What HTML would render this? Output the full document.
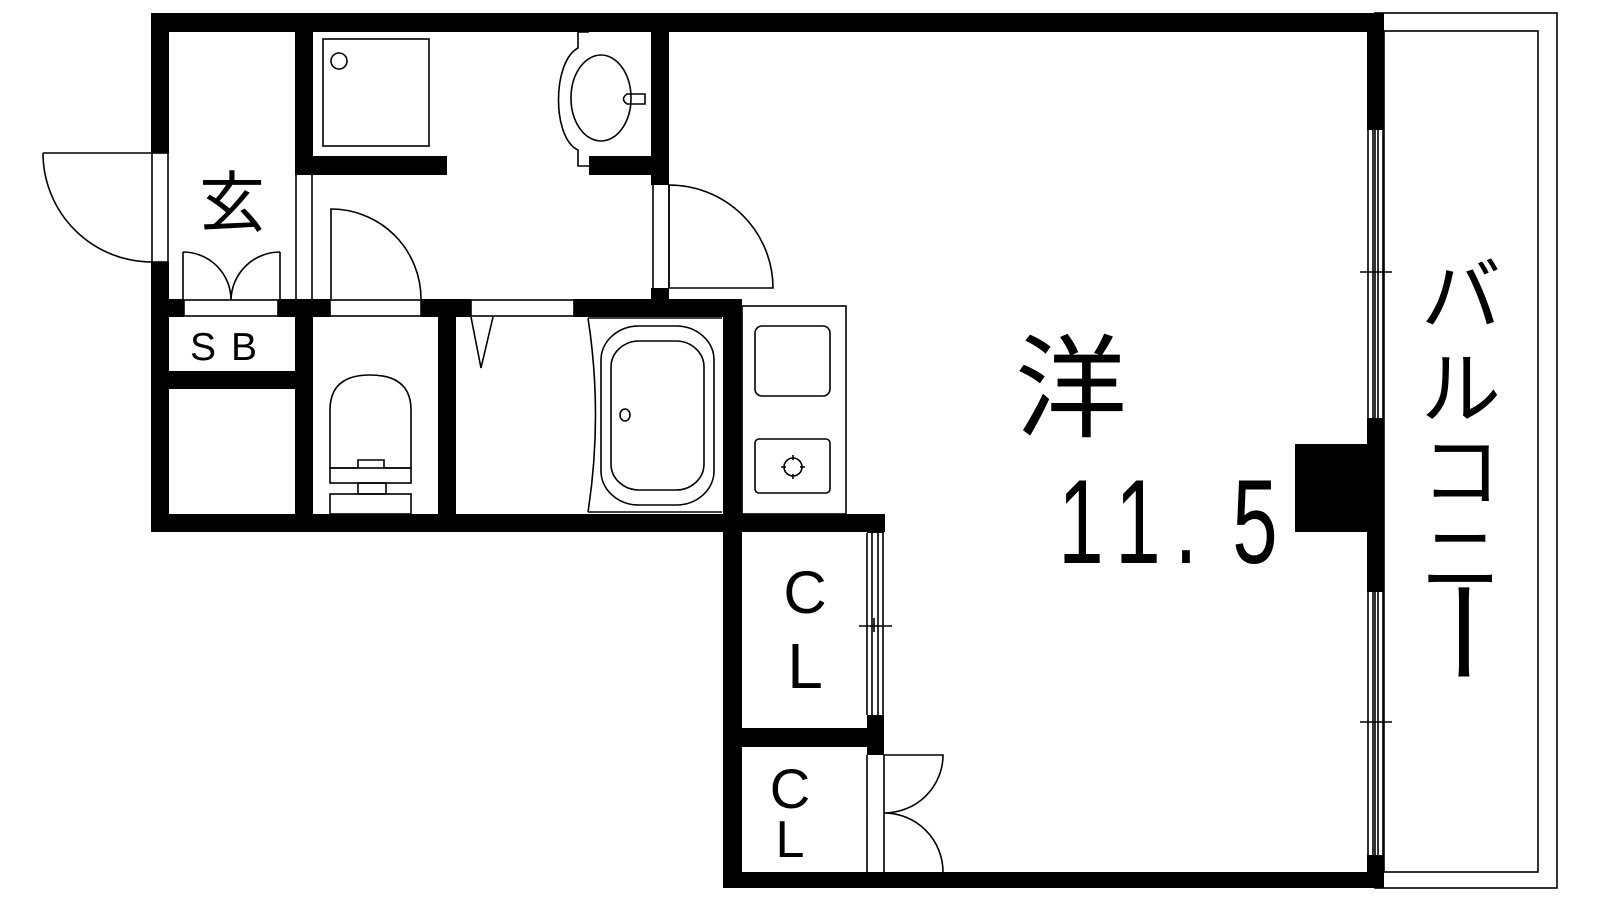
<!DOCTYPE html>
<html><head><meta charset="utf-8"><style>
html,body{margin:0;padding:0;background:#fff;}
svg{display:block}
text{font-family:"Liberation Sans","Noto Sans CJK JP",sans-serif;fill:#000}
.j{font-family:"Noto Sans CJK JP",sans-serif}
</style></head><body>
<svg width="1600" height="900" viewBox="0 0 1600 900" xmlns="http://www.w3.org/2000/svg">
<g fill="#000" stroke="none">
<rect x="151" y="13" width="1233" height="19"/>
<rect x="151" y="13" width="18" height="140"/>
<rect x="151" y="262" width="18" height="270"/>
<rect x="151" y="514" width="734" height="18"/>
<rect x="295" y="13" width="18" height="153"/>
<rect x="295" y="156" width="152" height="19"/>
<rect x="589" y="156" width="80" height="19"/>
<rect x="651" y="13" width="18" height="172"/>
<rect x="651" y="288" width="18" height="29"/>
<rect x="151" y="299" width="33" height="18"/>
<rect x="278" y="299" width="52" height="18"/>
<rect x="421" y="299" width="50" height="18"/>
<rect x="574" y="299" width="167" height="18"/>
<rect x="169" y="371" width="126" height="18"/>
<rect x="295" y="299" width="18" height="233"/>
<rect x="438" y="317" width="18" height="215"/>
<rect x="723" y="299" width="19" height="589"/>
<rect x="867" y="514" width="17" height="19"/>
<rect x="742" y="728" width="142" height="19"/>
<rect x="867" y="715" width="17" height="40"/>
<rect x="723" y="872" width="661" height="16"/>
<rect x="1367" y="13" width="17" height="117"/>
<rect x="1367" y="418" width="17" height="174"/>
<rect x="1367" y="855" width="17" height="33"/>
<rect x="1295" y="444" width="89" height="88"/>
</g>
<g fill="none" stroke="#000" stroke-width="1.6">
<rect x="152" y="153" width="16" height="109"/>
<path d="M43 153 L152 153 M43 153 A109 109 0 0 0 152 262"/>
<line x1="296" y1="166" x2="296" y2="299"/><line x1="312" y1="166" x2="312" y2="299"/>
<rect x="184" y="300" width="94" height="16"/>
<path d="M183 252 L183 300 M183 252 A48 48 0 0 1 231 300 M280 252 L280 300 M280 252 A49 49 0 0 0 231 300"/>
<rect x="330" y="300" width="91" height="16"/>
<rect x="471" y="300" width="103" height="16"/>
<path d="M331 299 L331 209 A90 90 0 0 1 421 299"/>
<line x1="653" y1="185" x2="653" y2="288"/><line x1="669" y1="185" x2="669" y2="288"/>
<path d="M669 288 L669 185 A104 103 0 0 1 773 288 Z"/>
<rect x="323" y="39" width="106" height="107"/>
<ellipse cx="339" cy="61" rx="8" ry="8"/>
<path d="M589 32 L578 32 L578 48 C552 62 552 138 578 150 L578 166 L589 166"/>
<ellipse cx="601" cy="98" rx="30" ry="43"/>
<path d="M645 94 L627 94 Q620 99 627 104 L645 104 Z"/>
<path d="M330 468 L330 410 Q330 375 370 375 Q411 375 411 410 L411 468 L384 468 L384 460 L358 460 L358 468 Z"/>
<rect x="330" y="468" width="81" height="15"/>
<rect x="358" y="483" width="28" height="11"/>
<rect x="330" y="494" width="81" height="20"/>
<path d="M471 317 L481 368 L493 317"/>
<path d="M588 318 L722 318 M588 512 L722 512 M588 318 Q603 415 588 512"/>
<rect x="601" y="326" width="113" height="179" rx="38" ry="34"/>
<rect x="611" y="341" width="93" height="149" rx="28" ry="26"/>
<ellipse cx="625" cy="415" rx="5" ry="6"/>
<rect x="742" y="306" width="104" height="208"/>
<rect x="755" y="326" width="75" height="70" rx="7"/>
<rect x="755" y="439" width="75" height="54" rx="4"/>
<circle cx="793" cy="467" r="9"/>
<path d="M793 455 V460 M793 474 V479 M781 467 H786 M800 467 H805"/>
<path d="M867 533 V715 M872 533 V715 M878 533 V715 M883 533 V715 M859 626 H892 M874 618 V632 M878 620 V634"/>
<path d="M867 755 V872 M884 755 V872 M884 755 H943 A59 58 0 0 1 884 813 A59 59 0 0 1 943 872"/>
<path d="M1368 130 V418 M1373 130 V418 M1378 130 V418 M1383 130 V418 M1360 272 H1392 M1373 264 V278 M1378 268 V282"/>
<path d="M1368 592 V855 M1373 592 V855 M1378 592 V855 M1383 592 V855 M1360 722 H1392 M1373 714 V728 M1378 718 V732"/>
<rect x="1375" y="13" width="182" height="875"/>
<rect x="1384" y="31" width="154" height="841"/>
</g>
<text class="j" x="232" y="226" font-size="66" text-anchor="middle">玄</text>
<text x="190" y="360" font-size="39">S<tspan x="231">B</tspan></text>
<text x="805" y="613" font-size="60" text-anchor="middle">C</text>
<text x="805" y="688" font-size="64" text-anchor="middle">L</text>
<text x="790" y="808" font-size="56" text-anchor="middle">C</text>
<text x="790" y="857" font-size="52" text-anchor="middle">L</text>
<text class="j" x="1071" y="428" font-size="112" text-anchor="middle">洋</text>
<g font-size="120">
<text transform="translate(1081,563) scale(0.68,1)" text-anchor="middle">1</text>
<text transform="translate(1138,563) scale(0.68,1)" text-anchor="middle">1</text>
<text transform="translate(1186,563) scale(0.68,1)" text-anchor="middle">.</text>
<text transform="translate(1255,563) scale(0.68,1)" text-anchor="middle">5</text>
</g>
<g class="j" font-size="80" text-anchor="middle">
<text class="j" x="1461" y="324">バ</text>
<text class="j" x="1461" y="417">ル</text>
<text class="j" x="1461" y="500">コ</text>
<text class="j" x="1461" y="587">ニ</text>
<text class="j" font-size="112" transform="translate(1461,632) rotate(90)" x="0" y="40">ー</text>
</g>
</svg>
</body></html>
